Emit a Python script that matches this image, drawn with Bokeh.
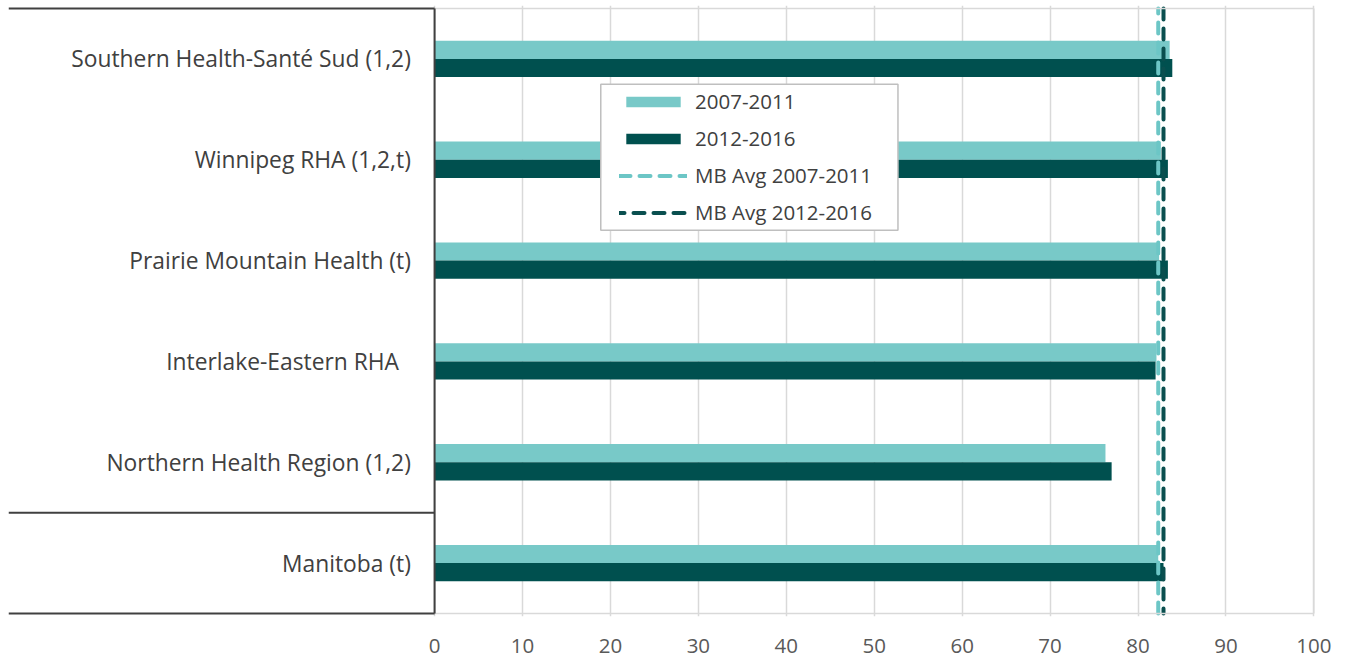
from bokeh.plotting import figure
from bokeh.models import FactorRange, Range1d, ColumnDataSource, FixedTicker, Legend, LegendItem
from bokeh.transform import dodge
from bokeh.core.properties import value
from bokeh.embed import file_html
from bokeh.resources import INLINE

# ---- data (top to bottom as shown) ----
regions = [
    "Southern Health-Santé Sud (1,2)",
    "Winnipeg RHA (1,2,t)",
    "Prairie Mountain Health (t)",
    "Interlake-Eastern RHA",
    "Northern Health Region (1,2)",
    "Manitoba (t)",
]
rate_2007_2011 = [83.6, 82.6, 82.4, 82.1, 76.3, 82.3]
rate_2012_2016 = [83.9, 83.4, 83.4, 82.0, 77.0, 82.9]
mb_avg_2007_2011 = 82.3
mb_avg_2012_2016 = 82.9
x_ticks = [0, 10, 20, 30, 40, 50, 60, 70, 80, 90, 100]
series_names = ["2007-2011", "2012-2016", "MB Avg 2007-2011", "MB Avg 2012-2016"]

LIGHT = "#78C9C8"
DARK = "#00504F"
FONT = "Open Sans"

factors = list(reversed(regions))  # bottom -> top
y_range = FactorRange(factors=factors, range_padding=0.03, range_padding_units="absolute")
x_range = Range1d(-48.46, 100.3)

p = figure(width=1346, height=660, x_range=x_range, y_range=y_range,
           output_backend="svg", toolbar_location=None,
           min_border_left=8, min_border_right=30, min_border_top=5, min_border_bottom=44)
p.outline_line_color = None
p.background_fill_color = "white"
p.yaxis.visible = False
p.ygrid.grid_line_color = None

ticker = FixedTicker(ticks=x_ticks)
p.xaxis.ticker = ticker
p.xgrid.ticker = ticker
p.xgrid.grid_line_color = "#D9D9D9"
p.xgrid.grid_line_width = 1.5
p.xaxis.axis_line_color = None
p.xaxis.major_tick_line_color = None
p.xaxis.minor_tick_line_color = None
p.xaxis.major_label_standoff = 16
p.xaxis.major_label_text_font = FONT
p.xaxis.major_label_text_font_size = "20.5px"
p.xaxis.major_label_text_color = "#595959"

src = ColumnDataSource(dict(region=regions, a=rate_2007_2011, b=rate_2012_2016))

r_a = p.hbar(y=dodge("region", 0.09, range=p.y_range), left=0, right="a", height=0.18,
             source=src, fill_color=LIGHT, line_color=None)
r_b = p.hbar(y=dodge("region", -0.09, range=p.y_range), left=0, right="b", height=0.18,
             source=src, fill_color=DARK, line_color=None)

top_f, bot_f = regions[0], regions[-1]
y_lo = (bot_f, -0.5)
y_hi = (top_f, 0.5)

r_c = p.line(x=[mb_avg_2007_2011, mb_avg_2007_2011], y=[y_lo, y_hi], line_color="#6CC6C6",
             line_width=4, line_dash="11 9", line_cap="round")
r_d = p.line(x=[mb_avg_2012_2016, mb_avg_2012_2016], y=[y_lo, y_hi], line_color="#0A4F4F",
             line_width=4, line_dash="11 9", line_dash_offset=6, line_cap="round")

# plot-area grey border
grey = ColumnDataSource(dict(
    x0=[0, 100, 0], x1=[100, 100, 100],
    y0=[y_hi, y_lo, y_lo], y1=[y_hi, y_hi, y_lo]))
p.segment(x0="x0", x1="x1", y0="y0", y1="y1", source=grey, line_color="#D9D9D9", line_width=1.5)

# left label box (dark)
xs = x_range.start
dark = ColumnDataSource(dict(
    x0=[xs, xs, xs, 0], x1=[0, 0, 0, 0],
    y0=[y_hi, (bot_f, 0.5), y_lo, y_lo], y1=[y_hi, (bot_f, 0.5), y_lo, y_hi]))
p.segment(x0="x0", x1="x1", y0="y0", y1="y1", source=dark, line_color="#404040", line_width=2)

labels = [r if r != "Interlake-Eastern RHA" else r + "\u00a0\u00a0" for r in regions]
p.text(x=-2.7, y=regions, text=labels, text_align="right", text_baseline="middle",
       text_font=value(FONT), text_font_size="22.8px", text_color="#404040")

# legend frame (white box with grey border, drawn over bars)
p.quad(left=[18.9], right=[52.7], top=[(top_f, -0.25)], bottom=[(top_f, -1.70)],
       fill_color="white", line_color="#BFBFBF", line_width=1.5)

lg = Legend(items=[LegendItem(label=series_names[0], renderers=[r_a]),
                   LegendItem(label=series_names[1], renderers=[r_b]),
                   LegendItem(label=series_names[2], renderers=[r_c]),
                   LegendItem(label=series_names[3], renderers=[r_d])],
            location=(611, 390))
lg.padding = 4
lg.margin = 0
lg.spacing = 9
lg.glyph_width = 68
lg.glyph_height = 13
lg.label_height = 20
lg.label_standoff = 8
lg.label_text_font = FONT
lg.label_text_font_size = "20.5px"
lg.label_text_color = "#404040"
lg.border_line_color = None
lg.background_fill_alpha = 0
p.add_layout(lg, "center")

open("out.html", "w").write(file_html(p, INLINE))
